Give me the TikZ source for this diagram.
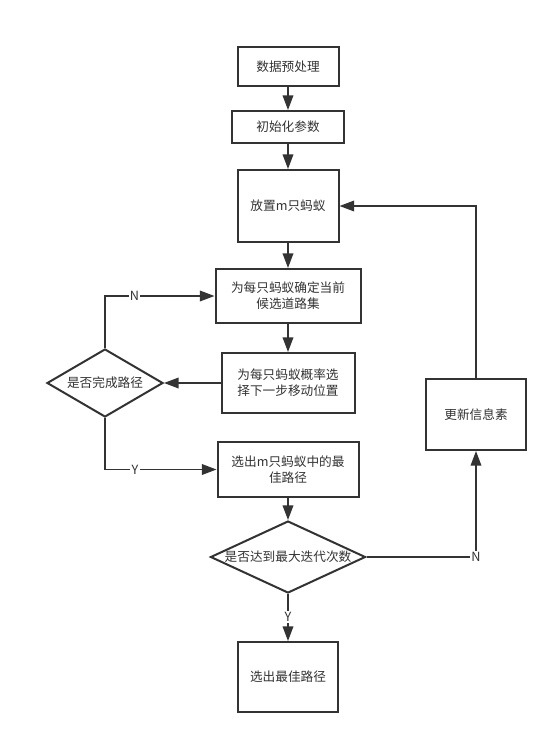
\documentclass[tikz,border=0pt]{standalone}
\usepackage{fontspec}
\setmainfont{Noto Sans CJK SC}
\usetikzlibrary{shapes.geometric,arrows.meta}
\definecolor{ink}{HTML}{333333}
\begin{document}
\begin{tikzpicture}[x=0.75pt,y=-0.75pt,
  box/.style={draw=ink,line width=1.5pt,inner sep=2pt,align=center,text=ink,font=\fontsize{9.5}{12}\selectfont},
  dia/.style={draw=ink,line width=1.5pt,diamond,inner sep=0pt},
  lbl/.style={text=ink,font=\fontsize{9.5}{12}\selectfont,inner sep=0pt},
  conn/.style={draw=ink,line width=1.1pt,-{Triangle[length=11pt,width=8pt]}},
  plain/.style={draw=ink,line width=1.1pt},
  tag/.style={fill=white,inner sep=1pt,text=ink,font=\fontsize{9.5}{12}\selectfont}]
\fill[white] (0,0) rectangle (558,744);
\useasboundingbox (0,0) rectangle (558,744);
\node[box,minimum width=75.75pt,minimum height=29.25pt] (b1) at (288,66.5) {数据预处理};
\node[box,minimum width=84pt,minimum height=24pt] (b2) at (288,127) {初始化参数};
\node[box,minimum width=75.75pt,minimum height=54pt] (b3) at (288,206) {放置m只蚂蚁};
\node[box,minimum width=108.75pt,minimum height=40.5pt] (b4) at (288,296) {为每只蚂蚁确定当前\\候选道路集};
\node[box,minimum width=99.75pt,minimum height=45pt] (b5) at (288,383) {为每只蚂蚁概率选\\择下一步移动位置};
\node[dia,minimum width=87pt,minimum height=51pt] (d1) at (105,383) {};
\node[lbl] (d1t) at (d1.center) {是否完成路径};
\node[box,minimum width=105.75pt,minimum height=41.25pt] (b6) at (288,469.5) {选出m只蚂蚁中的最\\佳路径};
\node[dia,minimum width=116.25pt,minimum height=54pt] (d2) at (288,557) {};
\node[lbl] (d2t) at (d2.center) {是否达到最大迭代次数};
\node[box,minimum width=75pt,minimum height=52.5pt] (b7) at (288,677) {选出最佳路径};
\node[box,minimum width=75pt,minimum height=53.25pt] (b8) at (476,414.5) {更新信息素};

\draw[conn] (b1) -- (b2);
\draw[conn] (b2) -- (b3);
\draw[conn] (b3) -- (b4);
\draw[conn] (b4) -- (b5);
\draw[conn] (b5.west) -- (d1.east);
\draw[conn] (d1.north) |- node[tag,pos=0.635] {N} (b4.west);
\draw[conn] (d1.south) |- node[tag,pos=0.635] {Y} (b6.west);
\draw[conn] (b6) -- (d2.north);
\draw[conn] (d2.south) -- node[tag,pos=0.49] {Y} (b7.north);
\draw[conn] (d2.east) -| node[tag,pos=0.5] {N} (b8.south);
\draw[conn] (b8.north) |- (b3.east);
\end{tikzpicture}
\end{document}
